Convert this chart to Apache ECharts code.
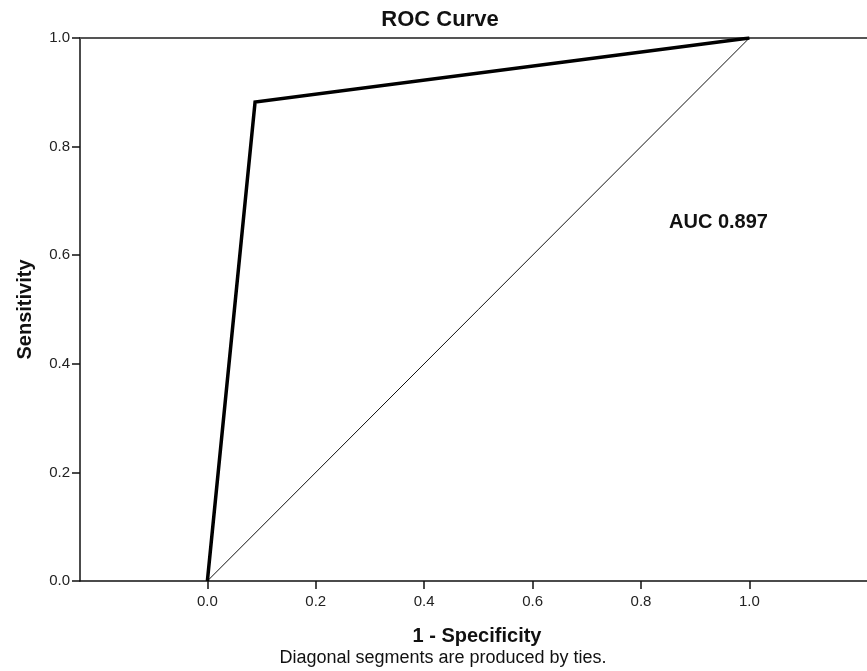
<!DOCTYPE html>
<html>
<head>
<meta charset="utf-8">
<script src="https://cdn.jsdelivr.net/npm/echarts@6/dist/echarts.min.js"></script>
<style>html,body{margin:0;padding:0;background:#fff}#c{width:867px;height:671px}</style>
</head>
<body>
<div id="c"></div>
<script>
// Data
const rocX = [0, 0.088, 1];
const rocY = [0, 0.882, 1];
const refX = [0, 1];
const refY = [0, 1];
const xTicks = [0, 0.2, 0.4, 0.6, 0.8, 1.0];
const aucText = 'AUC 0.897';

const font = '"Liberation Sans", Arial, sans-serif';
const chart = echarts.init(document.getElementById('c'), null, {renderer: 'canvas'});
chart.setOption({
  backgroundColor: '#fff',
  animation: false,
  title: [{
    text: 'ROC Curve', left: 440, top: 9, textAlign: 'center', padding: 0,
    textStyle: {fontFamily: font, fontSize: 22, fontWeight: 'bold', color: '#111'}
  }, {
    text: 'Diagonal segments are produced by ties.', left: 443, top: 649, textAlign: 'center', padding: 0,
    textStyle: {fontFamily: font, fontSize: 18, fontWeight: 'normal', color: '#111'}
  }],
  grid: {left: 80, right: 0, top: 38, bottom: 90, containLabel: false},
  xAxis: [{
    type: 'value', min: -0.235, max: 1.217,
    name: '1 - Specificity', nameLocation: 'middle', nameGap: 45,
    nameTextStyle: {fontFamily: font, fontSize: 20, fontWeight: 'bold', color: '#111', padding: [0, 0, 0, 7]},
    axisLine: {show: true, onZero: false, lineStyle: {color: '#111', width: 1.5}},
    axisTick: {show: true, customValues: xTicks, length: 8, lineStyle: {color: '#111', width: 1.5}},
    axisLabel: {customValues: xTicks, formatter: v => v.toFixed(1), margin: 13,
      fontFamily: font, fontSize: 15, color: '#222'},
    splitLine: {show: false}
  }, {
    type: 'value', position: 'top', min: -0.235, max: 1.217,
    axisLine: {show: true, onZero: false, lineStyle: {color: '#555', width: 2}},
    axisTick: {show: false}, axisLabel: {show: false}, splitLine: {show: false}
  }],
  yAxis: {
    type: 'value', min: 0, max: 1, interval: 0.2,
    name: 'Sensitivity', nameLocation: 'middle', nameGap: 45, nameRotate: 90,
    nameTextStyle: {fontFamily: font, fontSize: 20, fontWeight: 'bold', color: '#111'},
    axisLine: {show: true, onZero: false, lineStyle: {color: '#111', width: 1.5}},
    axisTick: {show: true, length: 8, lineStyle: {color: '#111', width: 1.5}},
    axisLabel: {formatter: v => v.toFixed(1), margin: 10, fontFamily: font, fontSize: 15, color: '#222'},
    splitLine: {show: false}
  },
  series: [{
    type: 'line', xAxisIndex: 0,
    data: refX.map((x, i) => [x, refY[i]]),
    symbol: 'none', lineStyle: {color: '#111', width: 1}
  }, {
    type: 'line', xAxisIndex: 0,
    data: rocX.map((x, i) => [x, rocY[i]]),
    symbol: 'none', lineStyle: {color: '#000', width: 3.5, join: 'miter'}
  }],
  graphic: [{
    type: 'text', left: 669, top: 212,
    style: {text: aucText, font: 'bold 20px ' + font, fill: '#111'}
  }]
});
</script>
</body>
</html>
